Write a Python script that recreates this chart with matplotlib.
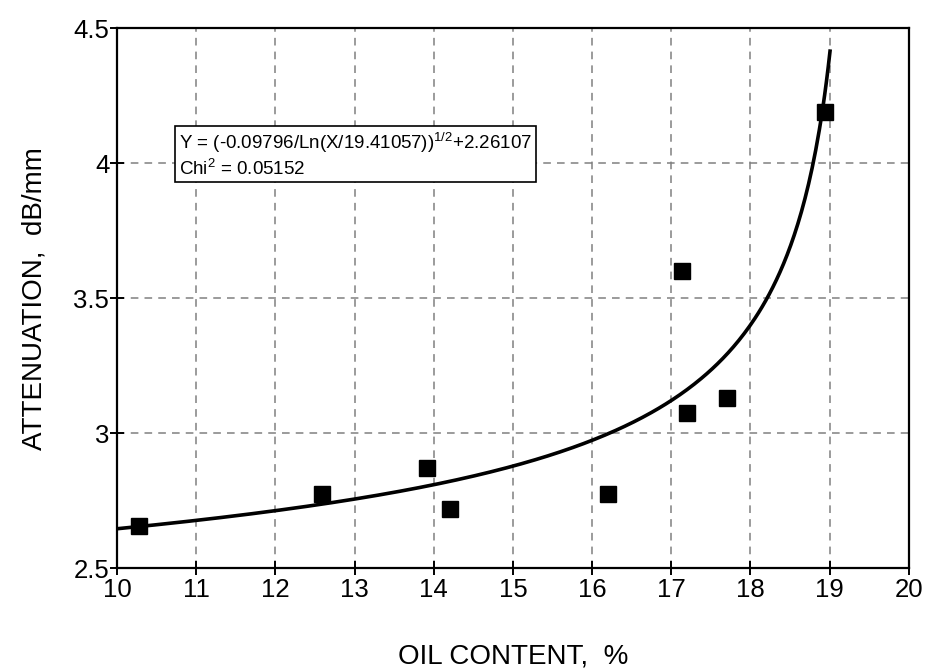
import numpy as np
import matplotlib
matplotlib.use("Agg")
import matplotlib.pyplot as plt

plt.rcParams['font.family'] = ['Liberation Sans', 'DejaVu Sans']
plt.rcParams['mathtext.fontset'] = 'custom'
plt.rcParams['mathtext.rm'] = 'Liberation Sans'
plt.rcParams['mathtext.it'] = 'Liberation Sans'

# measured data
oil_content = [10.28, 12.59, 13.91, 14.20, 16.20, 17.13, 17.20, 17.71, 18.94]
attenuation = [2.654, 2.776, 2.871, 2.717, 2.776, 3.60, 3.074, 3.129, 4.19]

# fit parameters shown in the chart
fit_a = -0.09796
fit_x0 = 19.41057
fit_c = 2.26107
fit_chi2 = 0.05152
fit_range = [10.0, 19.005]

x_ticks = [10, 11, 12, 13, 14, 15, 16, 17, 18, 19, 20]
y_ticks = [2.5, 3.0, 3.5, 4.0, 4.5]
y_tick_labels = ['2.5', '3', '3.5', '4', '4.5']

fig = plt.figure(figsize=(9.25, 6.71), dpi=100)
ax = fig.add_axes([0.1265, 0.1535, 0.856, 0.8045])

xf = np.linspace(fit_range[0], fit_range[1], 400)
yf = np.sqrt(fit_a / np.log(xf / fit_x0)) + fit_c
ax.plot(xf, yf, color='black', lw=2.6, zorder=3)
ax.plot(oil_content, attenuation, linestyle='none', marker='s', ms=12,
        color='black', zorder=4)

ax.set_xlim(10, 20)
ax.set_ylim(2.5, 4.5)
ax.set_xticks(x_ticks)
ax.set_yticks(y_ticks)
ax.set_yticklabels(y_tick_labels)
ax.grid(True, color='#808080', linestyle=(0, (5, 4)), lw=1.1)
for s in ax.spines.values():
    s.set_linewidth(1.6)
ax.tick_params(direction='inout', length=10, width=1.4, labelsize=18.5)
ax.tick_params(axis='x', pad=2)
ax.tick_params(axis='y', pad=0.5)
ax.set_xlabel('OIL CONTENT,  %', fontsize=20)
ax.set_ylabel('ATTENUATION,  dB/mm', fontsize=20)
ax.xaxis.set_label_coords(0.5, -0.14)
ax.yaxis.set_label_coords(-0.088, 0.5)

txt = ('Y = (-0.09796/Ln(X/19.41057))$^{1/2}$+2.26107\n'
       'Chi$^{2}$ = %.5f' % fit_chi2)
ax.text(10.78, 4.118, txt, fontsize=13.5, va='top', ha='left', linespacing=1.2,
        bbox=dict(boxstyle='square,pad=0.2', fc='white', ec='black', lw=1.2),
        zorder=5)

fig.savefig('out.png', dpi=100)
